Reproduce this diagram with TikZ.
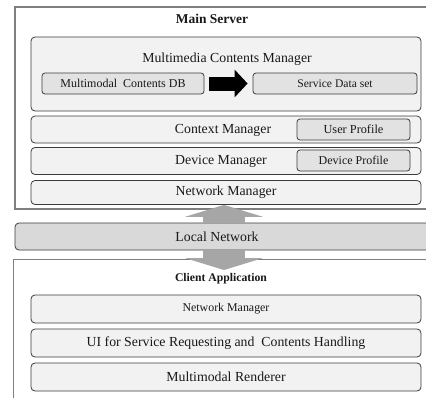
\documentclass[tikz,border=0pt]{standalone}
\usepackage{fontspec}
\setmainfont{Liberation Serif}
\usepackage{tikz}
\definecolor{layerfill}{HTML}{F2F2F2}
\definecolor{partfill}{HTML}{E2E2E2}
\definecolor{netfill}{HTML}{D9D9D9}
\definecolor{framegray}{HTML}{7F7F7F}
\definecolor{edgegray}{HTML}{3C3C3C}
\definecolor{pipegray}{HTML}{A6A6A6}
\usetikzlibrary{positioning, arrows.meta, shapes}
\tikzstyle{fatarrow} = [line width=14pt,-{Triangle[length=13pt,width=27pt]}]

\begin{document}
\begin{tikzpicture}[x=1pt,y=-1pt]
    \tikzstyle{every node}=[font=\fontsize{13.8}{16}\selectfont, text=black!90, inner sep=0pt]
    \tikzstyle{frame} = [draw=framegray, line width=1.3pt, fill=white]
    \tikzstyle{layer} = [draw=edgegray, rounded corners=4pt, fill=layerfill, line width=0.8pt, minimum width=390pt]
    \tikzstyle{part} = [draw=edgegray, rounded corners=3pt, fill=partfill, line width=0.8pt, minimum height=21pt, font=\fontsize{12}{14}\selectfont]
    \tikzstyle{title} = [font=\bfseries\fontsize{13.5}{16}\selectfont]
    \tikzstyle{pipe} = [draw=pipegray, line width=42pt, -{Triangle[length=12pt,width=78pt]}]

    \clip (0,0) rectangle (426,397);

    % server side
    \node[frame, minimum width=425pt, minimum height=202pt] (server) at (227.5,108) {};
    \node[title] (srvtitle) at (212,19) {Main Server};

    \node[layer, minimum height=74pt] (mcm) at (226,74) {};
    \node (mcmtext) at (227,59) {Multimedia Contents Manager};
    \node[part, minimum width=162pt] (db) at (123,83.5) {Multimodal\ \ Contents DB};
    \node[part, minimum width=164pt, font=\fontsize{11.6}{14}\selectfont] (sds) at (335,83.5) {Service Data set};
    \draw[fatarrow] ([xshift=5pt]db.east) -- ([xshift=-5pt]sds.west);

    \node[layer, minimum height=27pt] (ctx) at (226,129.5) {};
    \node (ctxtext) at (223,130) {Context Manager};
    \node[part, minimum width=113pt, font=\fontsize{12.3}{14}\selectfont] (user) at (353.5,129.5) {User Profile};

    \node[layer, minimum height=27pt] (dev) at (226,161) {};
    \node (devtext) at (221,161) {Device Manager};
    \node[part, minimum width=113pt] (devprof) at (353.5,160.5) {Device Profile};

    \node[layer, minimum height=24pt] (srvnet) at (226,192.5) {Network Manager};

    % network in between
    \node[draw=edgegray, rounded corners=4pt, fill=netfill, line width=0.8pt,
          minimum width=425pt, minimum height=27pt] (lan) at (227.5,236.5) {};
    \node (lantext) at (217,236.5) {Local Network};

    % client side
    \node[frame, minimum width=430pt, minimum height=160pt, anchor=north west] (client) at (13,259) {};
    \node[title, font=\bfseries\fontsize{11.7}{14}\selectfont] (cltitle) at (221,279) {Client Application};
    \coordinate (cltip) at (224,270);

    \node[layer, minimum height=28pt, font=\fontsize{11.9}{14}\selectfont] (clnet) at (226,309) {Network Manager};
    \node[layer, minimum height=28pt] (ui) at (226,343) {UI for Service Requesting and\ \ Contents Handling};
    \node[layer, minimum height=28pt] (render) at (226,377) {Multimodal Renderer};

    % links through the local network
    \draw[pipe] (lan.north -| cltip) -- (srvnet.south -| cltip);
    \draw[pipe] (lan.south -| cltip) -- (cltip);
\end{tikzpicture}
\end{document}
